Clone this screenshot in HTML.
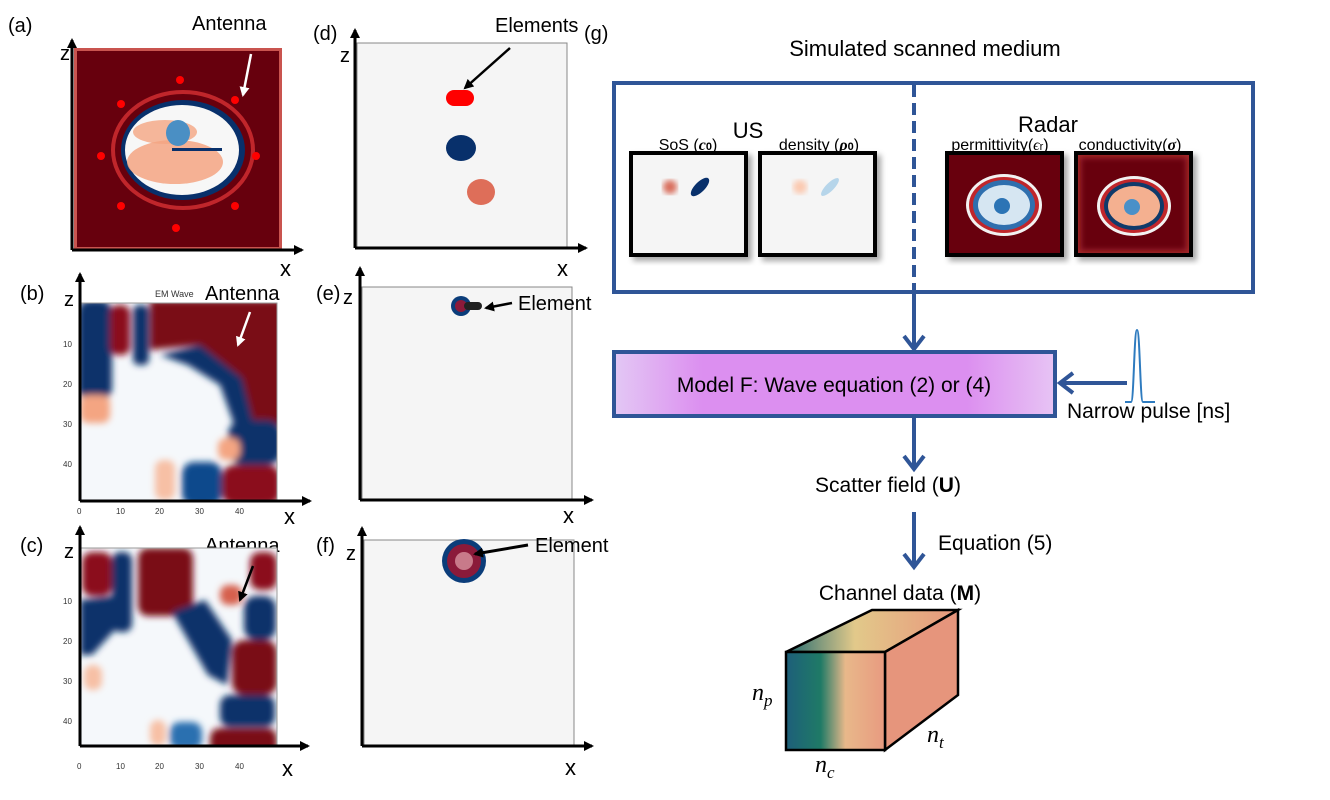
<!DOCTYPE html>
<html><head><meta charset="utf-8"><style>
html,body{margin:0;padding:0;background:#fff;}
svg{display:block;font-family:"Liberation Sans",sans-serif;}
</style></head><body>
<svg width="1330" height="800" viewBox="0 0 1330 800" xmlns="http://www.w3.org/2000/svg">
<defs>
<filter id="b3"><feGaussianBlur stdDeviation="3"/></filter>
<filter id="b4"><feGaussianBlur stdDeviation="3.5"/></filter>
<filter id="sh"><feDropShadow dx="4" dy="4" stdDeviation="3" flood-color="#000" flood-opacity="0.35"/></filter>
<marker id="ak" markerWidth="10" markerHeight="10" refX="8" refY="5" orient="auto" markerUnits="userSpaceOnUse"><path d="M0,0 L10,5 L0,10 z" fill="#000"/></marker>
<marker id="aw" markerWidth="10" markerHeight="10" refX="8" refY="5" orient="auto" markerUnits="userSpaceOnUse"><path d="M0,0 L10,5 L0,10 z" fill="#fff"/></marker>
<linearGradient id="pg" x1="0" x2="1"><stop offset="0" stop-color="#e3c8f4"/><stop offset="0.2" stop-color="#dc8ff0"/><stop offset="0.8" stop-color="#dc8ff0"/><stop offset="1" stop-color="#e7c4f4"/></linearGradient>
<linearGradient id="cf" x1="0" x2="1"><stop offset="0" stop-color="#1e5f7a"/><stop offset="0.35" stop-color="#1f7a66"/><stop offset="0.6" stop-color="#e8b88a"/><stop offset="1" stop-color="#e89a80"/></linearGradient>
<linearGradient id="ct" x1="0" x2="1"><stop offset="0" stop-color="#226b70"/><stop offset="0.4" stop-color="#e2c98a"/><stop offset="1" stop-color="#e8967c"/></linearGradient>
<clipPath id="cb"><rect x="80" y="303" width="197" height="198"/></clipPath>
<clipPath id="cc"><rect x="80" y="548" width="197" height="198"/></clipPath>
</defs>

<!-- (a) -->
<text x="8" y="32" font-size="20">(a)</text>
<text x="192" y="30" font-size="20">Antenna</text>
<rect x="74" y="48" width="208" height="202" fill="#c9544f"/>
<rect x="77" y="51" width="202" height="196" fill="#67000d"/>
<ellipse cx="183" cy="150" rx="70" ry="58" fill="none" stroke="#c0262b" stroke-width="4"/>
<ellipse cx="183" cy="150" rx="62" ry="50" fill="#08306b"/>
<ellipse cx="182" cy="150" rx="57" ry="45" fill="#f7f7f7"/>
<ellipse cx="175" cy="162" rx="48" ry="22" fill="#f4a582" opacity="0.85"/>
<ellipse cx="165" cy="132" rx="32" ry="12" fill="#f4a582" opacity="0.8"/>
<ellipse cx="178" cy="133" rx="12" ry="13" fill="#4a8fc4"/>
<rect x="172" y="148" width="50" height="3" fill="#08306b"/>
<g fill="#f00"><circle cx="180" cy="80" r="4"/><circle cx="121" cy="104" r="4"/><circle cx="235" cy="100" r="4"/><circle cx="101" cy="156" r="4"/><circle cx="256" cy="156" r="4"/><circle cx="121" cy="206" r="4"/><circle cx="235" cy="206" r="4"/><circle cx="176" cy="228" r="4"/></g>
<line x1="251" y1="54" x2="243" y2="95" stroke="#fff" stroke-width="2.5" marker-end="url(#aw)"/>
<line x1="72" y1="250" x2="72" y2="40" stroke="#000" stroke-width="3" marker-end="url(#ak)"/>
<line x1="72" y1="250" x2="302" y2="250" stroke="#000" stroke-width="3" marker-end="url(#ak)"/>
<text x="60" y="60" font-size="20">z</text>
<text x="280" y="276" font-size="22">x</text>

<!-- (b) -->
<text x="20" y="300" font-size="20">(b)</text>
<text x="155" y="297" font-size="9" fill="#333">EM Wave</text>
<text x="205" y="300" font-size="20">Antenna</text>
<g clip-path="url(#cb)">
<rect x="80" y="303" width="197" height="198" fill="#f5f8fb"/>
<g filter="url(#b4)">
<rect x="78" y="300" width="34" height="100" rx="12" fill="#08306b"/>
<rect x="110" y="305" width="20" height="50" rx="8" fill="#8b0a1a"/>
<rect x="133" y="305" width="16" height="60" rx="6" fill="#08306b"/>
<path d="M150,300 L285,300 L285,425 L252,425 L238,375 L200,345 L150,350 Z" fill="#7a0a17"/>
<path d="M160,355 L200,345 L242,378 L254,425 L236,430 L220,385 L188,365 Z" fill="#08306b"/>
<rect x="228" y="420" width="54" height="45" rx="15" fill="#08306b"/>
<rect x="222" y="465" width="58" height="40" rx="12" fill="#8b0a1a"/>
<rect x="182" y="462" width="40" height="44" rx="12" fill="#0d4a8c"/>
<rect x="80" y="395" width="30" height="28" rx="8" fill="#f4a582"/>
<rect x="155" y="460" width="20" height="40" rx="8" fill="#f7c0a5"/>
<rect x="218" y="438" width="22" height="22" rx="8" fill="#f4a582"/>
</g></g>
<rect x="80" y="303" width="197" height="198" fill="none" stroke="#999" stroke-width="1"/>
<line x1="250" y1="312" x2="238" y2="345" stroke="#fff" stroke-width="2.5" marker-end="url(#aw)"/>
<line x1="80" y1="501" x2="80" y2="274" stroke="#000" stroke-width="3" marker-end="url(#ak)"/>
<line x1="80" y1="501" x2="310" y2="501" stroke="#000" stroke-width="3" marker-end="url(#ak)"/>
<text x="64" y="306" font-size="20">z</text>
<text x="284" y="524" font-size="22">x</text>
<g font-size="8" fill="#333"><text x="77" y="514">0</text><text x="116" y="514">10</text><text x="155" y="514">20</text><text x="195" y="514">30</text><text x="235" y="514">40</text>
<text x="63" y="347">10</text><text x="63" y="387">20</text><text x="63" y="427">30</text><text x="63" y="467">40</text></g>

<!-- (c) -->
<text x="20" y="552" font-size="20">(c)</text>
<text x="155" y="554" font-size="9" fill="#333">EM Wave</text>
<text x="205" y="552" font-size="20">Antenna</text>
<g clip-path="url(#cc)">
<rect x="80" y="548" width="197" height="198" fill="#f5f8fb"/>
<g filter="url(#b4)">
<rect x="82" y="552" width="30" height="44" rx="10" fill="#8b0a1a"/>
<rect x="112" y="552" width="20" height="80" rx="8" fill="#08306b"/>
<path d="M80,600 L122,595 L122,622 L92,655 L80,655Z" fill="#08306b"/>
<rect x="138" y="548" width="55" height="68" rx="10" fill="#7a0a17"/>
<rect x="250" y="552" width="27" height="38" rx="10" fill="#8b0a1a"/>
<path d="M172,612 L205,600 L232,640 L227,685 L208,675 Z" fill="#08306b"/>
<rect x="244" y="596" width="32" height="44" rx="12" fill="#08306b"/>
<rect x="232" y="640" width="45" height="55" rx="12" fill="#7a0a17"/>
<rect x="220" y="695" width="55" height="32" rx="10" fill="#08306b"/>
<rect x="210" y="728" width="67" height="30" rx="10" fill="#7a0a17"/>
<rect x="170" y="722" width="32" height="28" rx="10" fill="#2a6fb0"/>
<rect x="84" y="665" width="18" height="25" rx="8" fill="#f7c0a5"/>
<rect x="150" y="720" width="16" height="26" rx="8" fill="#f7c0a5"/>
<rect x="220" y="585" width="22" height="20" rx="8" fill="#d6604d"/>
</g></g>
<rect x="80" y="548" width="197" height="198" fill="none" stroke="#999" stroke-width="1"/>
<line x1="253" y1="566" x2="240" y2="600" stroke="#000" stroke-width="2.5" marker-end="url(#ak)"/>
<line x1="80" y1="746" x2="80" y2="527" stroke="#000" stroke-width="3" marker-end="url(#ak)"/>
<line x1="80" y1="746" x2="308" y2="746" stroke="#000" stroke-width="3" marker-end="url(#ak)"/>
<text x="64" y="558" font-size="20">z</text>
<text x="282" y="776" font-size="22">x</text>
<g font-size="8" fill="#333"><text x="77" y="769">0</text><text x="116" y="769">10</text><text x="155" y="769">20</text><text x="195" y="769">30</text><text x="235" y="769">40</text>
<text x="63" y="604">10</text><text x="63" y="644">20</text><text x="63" y="684">30</text><text x="63" y="724">40</text></g>

<!-- (d) -->
<text x="313" y="40" font-size="20">(d)</text>
<text x="495" y="32" font-size="20">Elements</text>
<text x="584" y="40" font-size="20">(g)</text>
<rect x="357" y="43" width="210" height="205" fill="#f5f5f5" stroke="#888" stroke-width="1"/>
<rect x="446" y="90" width="28" height="16" rx="8" fill="#f00"/>
<ellipse cx="461" cy="148" rx="15" ry="13" fill="#08306b"/>
<ellipse cx="481" cy="192" rx="14" ry="13" fill="#de6e59"/>
<line x1="510" y1="48" x2="465" y2="88" stroke="#000" stroke-width="2.5" marker-end="url(#ak)"/>
<line x1="355" y1="248" x2="355" y2="30" stroke="#000" stroke-width="3" marker-end="url(#ak)"/>
<line x1="355" y1="248" x2="586" y2="248" stroke="#000" stroke-width="3" marker-end="url(#ak)"/>
<text x="340" y="62" font-size="20">z</text>
<text x="557" y="276" font-size="22">x</text>

<!-- (e) -->
<text x="316" y="300" font-size="20">(e)</text>
<rect x="362" y="287" width="210" height="212" fill="#f5f5f5" stroke="#888" stroke-width="1"/>
<circle cx="461" cy="306" r="10" fill="#0b3d7a"/>
<circle cx="461" cy="306" r="6" fill="#8b1a3a"/>
<rect x="464" y="302" width="18" height="8" rx="4" fill="#222"/>
<line x1="512" y1="303" x2="486" y2="308" stroke="#000" stroke-width="2.5" marker-end="url(#ak)"/>
<text x="518" y="310" font-size="20">Element</text>
<line x1="360" y1="500" x2="360" y2="268" stroke="#000" stroke-width="3" marker-end="url(#ak)"/>
<line x1="360" y1="500" x2="592" y2="500" stroke="#000" stroke-width="3" marker-end="url(#ak)"/>
<text x="343" y="304" font-size="20">z</text>
<text x="563" y="523" font-size="22">x</text>

<!-- (f) -->
<text x="316" y="552" font-size="20">(f)</text>
<rect x="364" y="540" width="210" height="206" fill="#f5f5f5" stroke="#888" stroke-width="1"/>
<circle cx="464" cy="561" r="22" fill="#0b3d7a"/>
<circle cx="464" cy="561" r="17" fill="#8b1a3a"/>
<circle cx="464" cy="561" r="9" fill="#c87a8a"/>
<line x1="528" y1="545" x2="475" y2="554" stroke="#000" stroke-width="3" marker-end="url(#ak)"/>
<text x="535" y="552" font-size="20">Element</text>
<line x1="362" y1="746" x2="362" y2="528" stroke="#000" stroke-width="3" marker-end="url(#ak)"/>
<line x1="362" y1="746" x2="592" y2="746" stroke="#000" stroke-width="3" marker-end="url(#ak)"/>
<text x="346" y="560" font-size="20">z</text>
<text x="565" y="775" font-size="22">x</text>

<!-- (g) -->
<text x="925" y="56" font-size="22" text-anchor="middle">Simulated scanned medium</text>
<rect x="614" y="83" width="639" height="209" fill="none" stroke="#2f5597" stroke-width="4"/>
<line x1="914" y1="85" x2="914" y2="290" stroke="#2f5597" stroke-width="4" stroke-dasharray="12,6"/>
<text x="748" y="138" font-size="22" text-anchor="middle">US</text>
<text x="1048" y="132" font-size="22" text-anchor="middle">Radar</text>
<g filter="url(#sh)">
<rect x="631" y="153" width="115" height="102" fill="#f5f5f5" stroke="#000" stroke-width="4"/>
<rect x="760" y="153" width="115" height="102" fill="#f5f5f5" stroke="#000" stroke-width="4"/>
<rect x="947" y="153" width="115" height="102" fill="#67000d" stroke="#000" stroke-width="4"/>
<rect x="1076" y="153" width="115" height="102" fill="#a1272a" stroke="#000" stroke-width="4"/>
</g>
<text x="688" y="150" font-size="16" text-anchor="middle">SoS (<tspan font-style="italic" font-weight="bold" font-family="Liberation Serif">c</tspan><tspan font-size="11" font-weight="bold">0</tspan>)</text>
<text x="819" y="150" font-size="16" text-anchor="middle">density (<tspan font-style="italic" font-weight="bold" font-family="Liberation Serif">ρ</tspan><tspan font-size="11" font-weight="bold">0</tspan>)</text>
<text x="1000" y="150" font-size="16" text-anchor="middle">permittivity(<tspan font-style="italic" font-family="Liberation Serif">ϵ</tspan><tspan font-size="11">r</tspan>)</text>
<text x="1130" y="150" font-size="16" text-anchor="middle">conductivity(<tspan font-style="italic" font-weight="bold" font-family="Liberation Serif">σ</tspan>)</text>
<rect x="1081" y="158" width="105" height="92" fill="#67000d" filter="url(#b3)"/>
<circle cx="670" cy="187" r="7" fill="#d6604d" filter="url(#b3)" opacity="0.9"/>
<ellipse cx="700" cy="187" rx="12" ry="5" transform="rotate(-45 700 187)" fill="#08306b"/>
<circle cx="800" cy="187" r="7" fill="#fbc9b0" filter="url(#b3)"/>
<ellipse cx="830" cy="187" rx="12" ry="4" transform="rotate(-45 830 187)" fill="#b6d5ea"/>
<ellipse cx="1004" cy="205" rx="38" ry="31" fill="#f2f2f2"/>
<ellipse cx="1004" cy="205" rx="35" ry="28" fill="#c0262b"/>
<ellipse cx="1004" cy="205" rx="31" ry="25" fill="#2f6fae"/>
<ellipse cx="1004" cy="205" rx="26" ry="20" fill="#d6e6f2"/>
<circle cx="1002" cy="206" r="8" fill="#2c74b5"/>
<ellipse cx="1134" cy="206" rx="37" ry="30" fill="#f2f2f2"/>
<ellipse cx="1134" cy="206" rx="34" ry="27" fill="#c0262b"/>
<ellipse cx="1134" cy="206" rx="30" ry="24" fill="#0f3a6a"/>
<ellipse cx="1134" cy="206" rx="26" ry="20" fill="#f4b090"/>
<circle cx="1132" cy="207" r="8" fill="#4a90c8"/>

<line x1="914" y1="292" x2="914" y2="348" stroke="#2f5597" stroke-width="4"/>
<path d="M904,336 L914,349 L924,336" fill="none" stroke="#2f5597" stroke-width="4"/>
<rect x="614" y="352" width="441" height="64" fill="url(#pg)" stroke="#2f5597" stroke-width="4"/>
<text x="834" y="392" font-size="21" text-anchor="middle">Model F: Wave equation (2) or (4)</text>
<line x1="1127" y1="383" x2="1060" y2="383" stroke="#2f5597" stroke-width="4"/>
<path d="M1073,373 L1060,383 L1073,393" fill="none" stroke="#2f5597" stroke-width="4"/>
<path d="M1125,402 L1131,402 C1134,402 1134,330 1137,330 C1140,330 1140,402 1143,402 L1155,402" fill="none" stroke="#2e7bbf" stroke-width="2"/>
<text x="1067" y="418" font-size="21">Narrow pulse [ns]</text>

<line x1="914" y1="416" x2="914" y2="468" stroke="#2f5597" stroke-width="4"/>
<path d="M904,456 L914,469 L924,456" fill="none" stroke="#2f5597" stroke-width="4"/>
<text x="888" y="492" font-size="21" text-anchor="middle">Scatter field (<tspan font-weight="bold">U</tspan>)</text>
<line x1="914" y1="512" x2="914" y2="566" stroke="#2f5597" stroke-width="4"/>
<path d="M904,554 L914,567 L924,554" fill="none" stroke="#2f5597" stroke-width="4"/>
<text x="938" y="550" font-size="21">Equation (5)</text>
<text x="900" y="600" font-size="21" text-anchor="middle">Channel data (<tspan font-weight="bold">M</tspan>)</text>

<polygon points="786,652 872,610 958,610 885,652" fill="url(#ct)" stroke="#000" stroke-width="2.5"/>
<polygon points="885,652 958,610 958,695 885,750" fill="#e6957c" stroke="#000" stroke-width="2.5"/>
<rect x="786" y="652" width="99" height="98" fill="url(#cf)" stroke="#000" stroke-width="2.5"/>
<text x="752" y="700" font-size="24" font-style="italic" font-family="Liberation Serif">n<tspan font-size="17" dy="6">p</tspan></text>
<text x="927" y="742" font-size="24" font-style="italic" font-family="Liberation Serif">n<tspan font-size="17" dy="6">t</tspan></text>
<text x="815" y="772" font-size="24" font-style="italic" font-family="Liberation Serif">n<tspan font-size="17" dy="6">c</tspan></text>
</svg>
</body></html>
